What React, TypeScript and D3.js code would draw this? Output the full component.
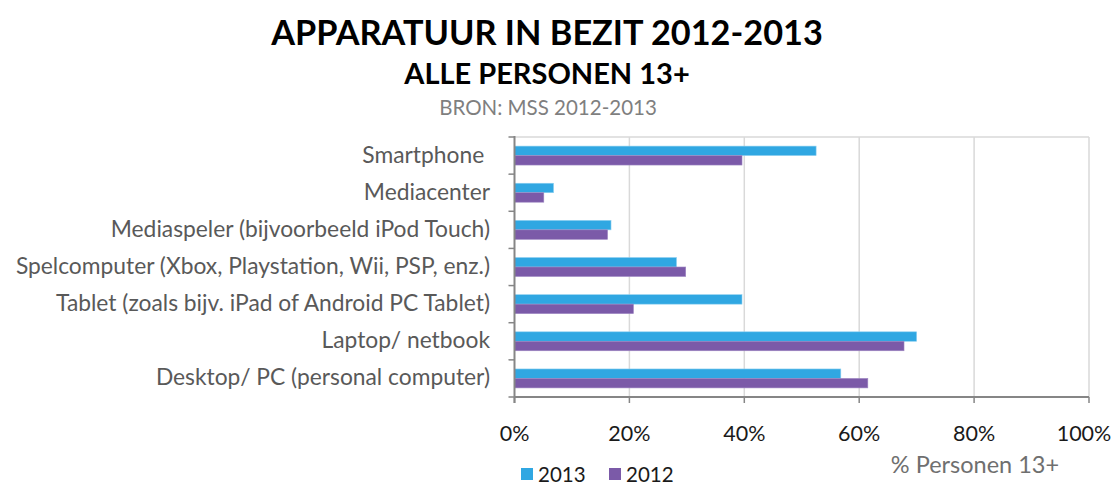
import React from 'react';
import * as d3 from 'd3';

const categories = [
  'Smartphone ',
  'Mediacenter',
  'Mediaspeler (bijvoorbeeld iPod Touch)',
  'Spelcomputer (Xbox, Playstation, Wii, PSP, enz.)',
  'Tablet (zoals bijv. iPad of Android PC Tablet)',
  'Laptop/ netbook',
  'Desktop/ PC (personal computer)',
];
const values2013 = [52.5, 6.8, 16.8, 28.2, 39.6, 70.0, 56.8];
const values2012 = [39.6, 5.1, 16.2, 29.8, 20.7, 67.8, 61.5];
const seriesNames = ['2013', '2012'];
const xTicks = [0, 20, 40, 60, 80, 100];

const colors = ['#30a7e2', '#7b5aa8'];
const font = 'Lato, "Noto Sans", sans-serif';

const W = 1120;
const H = 487;
const plot = { left: 514.5, right: 1089, top: 137, bottom: 397 };

const App = () => {
  const x = d3.scaleLinear().domain([0, 100]).range([plot.left, plot.right]);
  const y = d3
    .scaleBand()
    .domain(categories)
    .range([plot.top, plot.bottom])
    .paddingInner(0.49)
    .paddingOuter(0.245);
  const sub = d3.scaleBand().domain(seriesNames).range([0, y.bandwidth()]);
  const step = y.step();
  const series = [values2013, values2012];

  // tick marks on the category axis sit between the bands
  const yTickPos = d3.range(categories.length + 1).map((i) => plot.top + i * step);

  return (
    <svg width={W} height={H} style={{ position: 'absolute', left: 0, top: 0, fontFamily: font }}>
      <rect width={W} height={H} fill="#fff" />
      {/* titles */}
      <text x={547} y={45} textAnchor="middle" fontSize={34.3} fontWeight={700} fill="#000">
        APPARATUUR IN BEZIT 2012-2013
      </text>
      <text x={547} y={84} textAnchor="middle" fontSize={29} fontWeight={700} fill="#000">
        ALLE PERSONEN 13+
      </text>
      <text x={548} y={115} textAnchor="middle" fontSize={20.5} fill="#7f7f7f">
        BRON: MSS 2012-2013
      </text>

      {/* grid */}
      {xTicks.slice(1).map((t) => (
        <line key={t} x1={x(t)} x2={x(t)} y1={plot.top} y2={plot.bottom} stroke="#d9d9d9" strokeWidth={1.5} />
      ))}
      <line x1={plot.left} x2={plot.right} y1={plot.top} y2={plot.top} stroke="#d9d9d9" strokeWidth={1.5} />

      {/* bars */}
      {categories.map((c, i) => (
        <g key={c} transform={`translate(0,${y(c)})`}>
          {seriesNames.map((s, j) => (
            <rect
              key={s}
              x={x(0)}
              y={sub(s)}
              width={x(series[j][i]) - x(0)}
              height={sub.bandwidth()}
              fill={colors[j]}
              stroke={j === 0 ? '#8fd0f0' : '#9d86c2'}
              strokeWidth={0.6}
            />
          ))}
          <text
            x={490}
            y={y.bandwidth() / 2 - 1}
            dy="0.35em"
            textAnchor="end"
            fontSize={22.8}
            fill="#595959"
            style={{ whiteSpace: 'pre' }}
          >
            {c}
          </text>
        </g>
      ))}

      {/* axes */}
      <line x1={plot.left} x2={plot.left} y1={plot.top - 1} y2={plot.bottom + 6} stroke="#868686" strokeWidth={2} />
      {yTickPos.map((p, i) => (
        <line key={i} x1={plot.left - 6} x2={plot.left} y1={p} y2={p} stroke="#868686" strokeWidth={1.5} />
      ))}
      <line x1={plot.left} x2={plot.right} y1={plot.bottom} y2={plot.bottom} stroke="#868686" strokeWidth={2} />
      {xTicks.map((t) => (
        <g key={t}>
          <line x1={x(t)} x2={x(t)} y1={plot.bottom} y2={plot.bottom + 6} stroke="#868686" strokeWidth={1.5} />
          <text x={t === 100 ? 1084 : x(t)} y={441} textAnchor="middle" fontSize={21.5} fill="#1a1a1a">
            {t}%
          </text>
        </g>
      ))}
      <text x={975} y={473} textAnchor="middle" fontSize={23.5} fill="#6f6f6f">
        % Personen 13+
      </text>

      {/* legend */}
      {seriesNames.map((s, j) => (
        <g key={s} transform={`translate(${521 + j * 88},468)`}>
          <rect width={12} height={12} fill={colors[j]} />
          <text x={17} y={13.5} fontSize={20.5} fill="#1a1a1a">
            {s}
          </text>
        </g>
      ))}
    </svg>
  );
};

export default App;
